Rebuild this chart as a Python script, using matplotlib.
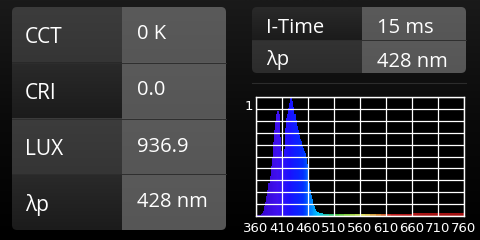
import numpy as np
import matplotlib.pyplot as plt
from matplotlib.patches import FancyBboxPatch
from matplotlib.colors import LinearSegmentedColormap

# readings shown in the panels
left_labels = ["CCT", "CRI", "LUX", "λp"]
left_values = ["0 K", "0.0", "936.9", "428 nm"]
right_labels = ["I-Time", "λp"]
right_values = ["15 ms", "428 nm"]

# spectrum (normalised), 2 nm bins 360..488
spec_wl = np.arange(360, 490, 2)
spec_val = [0.005, 0.005, 0.005, 0.008, 0.01, 0.015, 0.025, 0.04, 0.08, 0.12,
            0.17, 0.22, 0.28, 0.34, 0.42, 0.50, 0.62, 0.72, 0.80, 0.86,
            0.88, 0.88, 0.86, 0.66, 0.55, 0.50, 0.50, 0.56, 0.74, 0.82,
            0.86, 0.91, 0.95, 0.99, 1.00, 0.97, 0.92, 0.86, 0.81, 0.76,
            0.72, 0.68, 0.65, 0.63, 0.60, 0.57, 0.55, 0.53, 0.50, 0.44,
            0.34, 0.28, 0.22, 0.18, 0.14, 0.10, 0.08, 0.06, 0.045, 0.035,
            0.03, 0.027, 0.025, 0.022, 0.02]
# low tail, 10 nm bins 490..750
tail_wl = np.arange(490, 760, 10)
tail_val = [0.02, 0.019, 0.018, 0.018, 0.018, 0.018, 0.018, 0.018, 0.018,
            0.018, 0.019, 0.019, 0.02, 0.02, 0.021, 0.021, 0.021, 0.022,
            0.022, 0.022, 0.022, 0.022, 0.022, 0.022, 0.022, 0.022, 0.022]
x_ticks = [360, 410, 460, 510, 560, 610, 660, 710, 760]

W, H = 480, 240
fig = plt.figure(figsize=(4.8, 2.4), dpi=100)

# background gradient + panels drawn in pixel coords
bg = fig.add_axes([0, 0, 1, 1])
bg.set_xlim(0, W)
bg.set_ylim(H, 0)
bg.axis("off")
grad = np.linspace(0, 1, 100).reshape(-1, 1)
bg_cmap = LinearSegmentedColormap.from_list("bg", ["#1a1a1a", "#0a0a0a", "#000000"])
bg.imshow(grad, cmap=bg_cmap, extent=[0, W, H, 0], aspect="auto", zorder=0)


def cell(x0, x1, y0, y1, c_top, c_bot, clip):
    cm = LinearSegmentedColormap.from_list("c", [c_top, c_bot])
    im = bg.imshow(grad, cmap=cm, extent=[x0, x1, y1, y0], aspect="auto", zorder=2)
    im.set_clip_path(clip)


def panel(x0, x1, xs, y0, y1, n, lab_cols, val_cols):
    box = FancyBboxPatch((x0, y0), x1 - x0, y1 - y0,
                         boxstyle="round,pad=0,rounding_size=5",
                         fc="none", ec="none", zorder=1)
    bg.add_patch(box)
    rh = (y1 - y0) / n
    for i in range(n):
        ya, yb = y0 + i * rh, y0 + (i + 1) * rh
        cell(x0, xs, ya, yb, *lab_cols[i], box)
        cell(xs, x1, ya, yb, *val_cols[i], box)
        if i > 0:
            bg.plot([x0, x1], [ya, ya], color="#2e2e2e", lw=0.7, zorder=3)
    return rh


light_lab = ("#3c3c3c", "#353535")
dark_lab = ("#2a2a2a", "#1b1b1b")
val_c = ("#5a5a5a", "#565656")

panel(12, 226, 122, 7, 230, 4,
      [light_lab, dark_lab, light_lab, dark_lab], [val_c] * 4)
panel(252, 466, 362, 7, 73, 2,
      [dark_lab, ("#333333", "#2c2c2c")], [val_c] * 2)
bg.plot([252, 466], [83, 83], color="#2c2c2c", lw=0.8, zorder=3)

font = ["Open Sans", "DejaVu Sans"]
lab_base = [43, 99, 155, 211]
val_base = [39, 95, 152, 207]
for lab, val, yl, yv in zip(left_labels, left_values, lab_base, val_base):
    bg.text(25, yl, lab, color="white", fontsize=15, family=font, va="baseline", zorder=5)
    bg.text(137, yv, val, color="white", fontsize=14.5, family=font, va="baseline", zorder=5)
for lab, val, yl, yv in zip(right_labels, right_values, [33, 65], [33, 67]):
    bg.text(266, yl, lab, color="white", fontsize=14.5, family=font, va="baseline", zorder=5)
    bg.text(377, yv, val, color="white", fontsize=14.5, family=font, va="baseline", zorder=5)

# spectrum chart
ax = fig.add_axes([256 / W, (H - 216) / H, 208 / W, 119 / H])
ax.set_facecolor("black")
wl_cmap = LinearSegmentedColormap.from_list("wl", [
    (0.000, "#3000c0"), (0.100, "#4010f0"), (0.163, "#1a10ff"),
    (0.225, "#0030ff"), (0.262, "#0080ff"), (0.300, "#00c8ff"),
    (0.340, "#20c0a0"), (0.380, "#40c040"), (0.450, "#90d040"),
    (0.520, "#e0e060"), (0.590, "#d08030"), (0.650, "#c02020"),
    (0.800, "#a81414"), (1.000, "#a01010")])
ax.bar(spec_wl + 1, spec_val, width=2.0,
       color=wl_cmap((spec_wl + 1 - 360) / 400), linewidth=0, zorder=1)
ax.bar(tail_wl + 5, tail_val, width=10.0,
       color=wl_cmap((tail_wl + 5 - 360) / 400), linewidth=0, zorder=1)

ax.set_xlim(360, 760)
ax.set_ylim(0, 1)
ax.set_xticks(x_ticks)
ax.set_xticklabels([str(t) for t in x_ticks])
ax.set_yticks(np.linspace(0, 1, 11))
ax.grid(True, color="white", lw=0.9, zorder=2)
ax.set_axisbelow(False)
ax.tick_params(axis="x", length=0, pad=4, colors="white", labelsize=9.5)
ax.tick_params(axis="y", length=0, labelleft=False)
for lbl in ax.get_xticklabels():
    lbl.set_family(["Liberation Sans Narrow", "DejaVu Sans"])
for s in ax.spines.values():
    s.set_color("white")
    s.set_linewidth(1.0)
bg.text(249, 110, "1", color="white", fontsize=9.5, ha="center", va="baseline",
        family=["Liberation Sans Narrow", "DejaVu Sans"], zorder=5)

fig.savefig("out.png", dpi=100, facecolor="black")
